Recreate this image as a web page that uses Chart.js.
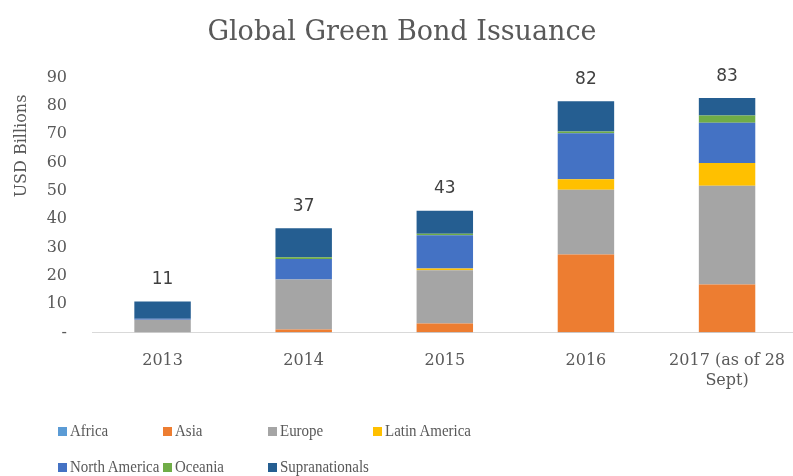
<!DOCTYPE html>
<html>
<head>
<meta charset="utf-8">
<script src="https://cdn.jsdelivr.net/npm/chart.js@4"></script>
<style>
  body { margin: 0; background: #fff; overflow: hidden; }
  #outer { width: 793px; height: 476px; overflow: hidden; position: relative; }
  #wrap { position: absolute; left: 0; top: 0; width: 804px; height: 476px; }
  #legend { position: absolute; left: 58px; top: 421px; width: 735px; }
  .item { position: absolute; font-family: 'Liberation Serif', serif; font-size: 17px; color: #595959; white-space: nowrap; line-height: 20px; }
  .item span { display: inline-block; width: 9px; height: 9px; margin-right: 3px; }
  .item b { display: inline-block; font-weight: normal; transform: scaleX(0.88); transform-origin: left center; }
</style>
</head>
<body>
<div id="outer">
  <div id="wrap"><canvas id="chart"></canvas></div>
  <div id="legend"></div>
</div>
<script>
const years = ['2013', '2014', '2015', '2016', ['2017 (as of 28', 'Sept)']]

const africa = [0, 0.1, 0.1, 0.1, 0.1]
const asia = [0, 1.0, 3.1, 27.4, 16.9]
const europe = [4.5, 17.6, 18.8, 22.9, 34.8]
const latinAmerica = [0, 0, 0.6, 3.7, 8.0]
const northAmerica = [0.4, 7.3, 11.7, 16.2, 14.2]
const oceania = [0, 0.6, 0.6, 0.6, 2.6]
const supranationals = [6.1, 10.2, 8.1, 10.7, 6.1]

const names = ['Africa', 'Asia', 'Europe', 'Latin America', 'North America', 'Oceania', 'Supranationals']
const series = [africa, asia, europe, latinAmerica, northAmerica, oceania, supranationals]
const colors = ['#5B9BD5', '#ED7D31', '#A5A5A5', '#FFC000', '#4472C4', '#70AD47', '#255E91']

const datasets = names.map((name, i) => ({
  label: name,
  data: series[i],
  backgroundColor: colors[i],
  borderWidth: 0,
  categoryPercentage: 1,
  barPercentage: 0.4
}))

// totals on top of each stack + rotated axis title
const extras = {
  id: 'extras',
  afterDatasetsDraw(chart) {
    const ctx = chart.ctx
    const x = chart.scales.x
    const y = chart.scales.y
    ctx.save()
    ctx.fillStyle = '#404040'
    ctx.font = '17px "DejaVu Sans"'
    ctx.textAlign = 'center'
    ctx.textBaseline = 'middle'
    years.forEach((yr, i) => {
      const total = series.reduce((s, arr) => s + arr[i], 0)
      ctx.fillText(String(Math.round(total)), x.getPixelForValue(i), y.getPixelForValue(total) - 22)
    })
    ctx.translate(22, 146)
    ctx.rotate(-Math.PI / 2)
    ctx.fillStyle = '#595959'
    ctx.font = '16px "DejaVu Serif"'
    ctx.fillText('USD Billions', 0, 0)
    ctx.restore()
  }
}

new Chart(document.getElementById('chart'), {
  type: 'bar',
  data: { labels: years, datasets: datasets },
  plugins: [extras],
  options: {
    responsive: true,
    maintainAspectRatio: false,
    animation: false,
    layout: { padding: { left: 0, right: 0, top: 0, bottom: 67 } },
    plugins: {
      legend: { display: false },
      tooltip: { enabled: false },
      title: {
        display: true,
        text: 'Global Green Bond Issuance',
        color: '#595959',
        font: { family: 'DejaVu Serif', size: 27, weight: 'normal' },
        padding: { top: 17, bottom: 28 }
      }
    },
    scales: {
      x: {
        stacked: true,
        grid: { display: false, drawTicks: false },
        border: { color: '#d9d9d9', width: 1 },
        ticks: { color: '#595959', font: { family: 'DejaVu Serif', size: 16 }, padding: 19, maxRotation: 0, autoSkip: false }
      },
      y: {
        stacked: true,
        min: 0,
        max: 90,
        grid: { display: false, drawTicks: false },
        border: { display: false },
        afterFit: scale => { scale.width = 92 },
        ticks: {
          stepSize: 10,
          color: '#595959',
          font: { family: 'DejaVu Serif', size: 16 },
          padding: 25,
          callback: v => v === 0 ? '-' : v
        }
      }
    }
  }
})

// legend in fixed columns
const legend = document.getElementById('legend')
names.forEach((name, i) => {
  const el = document.createElement('div')
  el.className = 'item'
  el.style.left = (i % 4) * 105 + 'px'
  el.style.top = Math.floor(i / 4) * 36 + 'px'
  el.innerHTML = '<span style="background:' + colors[i] + '"></span><b>' + name + '</b>'
  legend.appendChild(el)
})
</script>
</body>
</html>
